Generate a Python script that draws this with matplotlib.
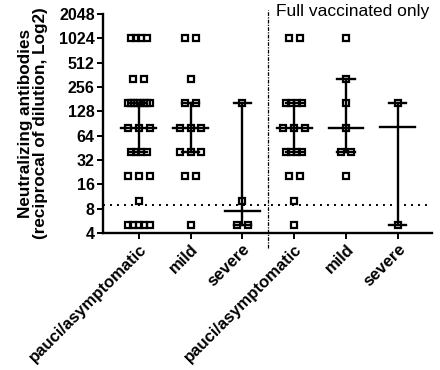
import numpy as np
import matplotlib
matplotlib.use("Agg")
import matplotlib.pyplot as plt

plt.rcParams['font.family'] = ['Liberation Sans', 'DejaVu Sans']

categories = ["pauci/asymptomatic", "mild", "severe",
              "pauci/asymptomatic", "mild", "severe"]

g1 = [1024, 1024, 1024, 1024, 320, 320,
      160, 160, 160, 160, 160, 160, 160, 160,
      80, 80, 80, 40, 40, 40, 40, 20, 20, 20, 10, 5, 5, 5, 5, 5]
g2 = [1024, 1024, 320, 160, 160, 80, 80, 80, 40, 40, 40, 20, 20, 5]
g3 = [160, 10, 5, 5]
g4 = [1024, 1024, 160, 160, 160, 160, 80, 80, 80,
      40, 40, 40, 40, 20, 20, 10, 5]
g5 = [1024, 320, 160, 80, 40, 40, 20]
g6 = [160, 5]
groups = [g1, g2, g3, g4, g5, g6]

medians = [80, 80, 7.5, 80, 80, 82.5]
lower = [40, 40, 5, 40, 40, 5]
upper = [160, 160, 160, 160, 320, 160]

threshold = 9
yticks = [4, 8, 16, 32, 64, 128, 256, 512, 1024, 2048]
ylabel = "Neutralizing antibodies\n(reciprocal of dilution, Log2)"
annot = "Full vaccinated only"

fig = plt.figure(figsize=(4.4, 3.7), dpi=100)
ax = fig.add_axes([103/440, 1-233/370, (432-103)/440, (233-14)/370])

ax.set_yscale('log', base=2)
ax.set_ylim(4, 2048)
ax.set_xlim(-0.69, 5.66)


def offsets(n):
    if n <= 1:
        return np.zeros(n)
    if n <= 3:
        sp = 0.21
    else:
        sp = min(0.105, 0.43 / (n - 1))
    return (np.arange(n) - (n - 1) / 2) * sp


for i, g in enumerate(groups):
    vals = np.array(g, dtype=float)
    xs = np.zeros(len(vals))
    for v in np.unique(vals):
        idx = np.where(vals == v)[0]
        xs[idx] = i + offsets(len(idx))
    ax.plot(xs, vals, linestyle='none', marker='s', markersize=4.6,
            markerfacecolor='none', markeredgecolor='black',
            markeredgewidth=1.6, zorder=3, clip_on=False)
    ax.plot([i, i], [lower[i], upper[i]], color='black', lw=1.7, zorder=2)
    ax.plot([i - 0.165, i + 0.165], [lower[i], lower[i]], color='black', lw=1.7, zorder=2)
    ax.plot([i - 0.165, i + 0.165], [upper[i], upper[i]], color='black', lw=1.7, zorder=2)
    ax.plot([i - 0.335, i + 0.335], [medians[i], medians[i]], color='black', lw=1.7, zorder=2)

ax.axhline(threshold, color='black', lw=1.4, linestyle=(0, (1, 2.6)), zorder=1)
ax.plot([2.5, 2.5], [-0.07, 1.02], transform=ax.get_xaxis_transform(),
        color='black', lw=0.9, linestyle=(0, (3, 1, 1, 1)), clip_on=False, zorder=1)

ax.text(2.65, 1.01, annot, transform=ax.get_xaxis_transform(),
        fontsize=12.5, ha='left', va='center', color='black')

ax.set_yticks(yticks)
ax.set_yticklabels([str(t) for t in yticks], fontsize=11.5, fontweight='bold')
ax.yaxis.set_minor_locator(matplotlib.ticker.NullLocator())
ax.set_xticks(range(len(categories)))
ax.set_xticklabels(categories, rotation=45, ha='right', va='top',
                   rotation_mode='anchor', fontsize=12, fontweight='bold')

ax.set_ylabel(ylabel, fontsize=12.3, fontweight='bold', labelpad=8, linespacing=1.0)

for s in ['top', 'right']:
    ax.spines[s].set_visible(False)
for s in ['left', 'bottom']:
    ax.spines[s].set_linewidth(1.7)
ax.tick_params(axis='both', direction='out', length=4, width=1.4, pad=2)

fig.savefig('out.png', dpi=100)
